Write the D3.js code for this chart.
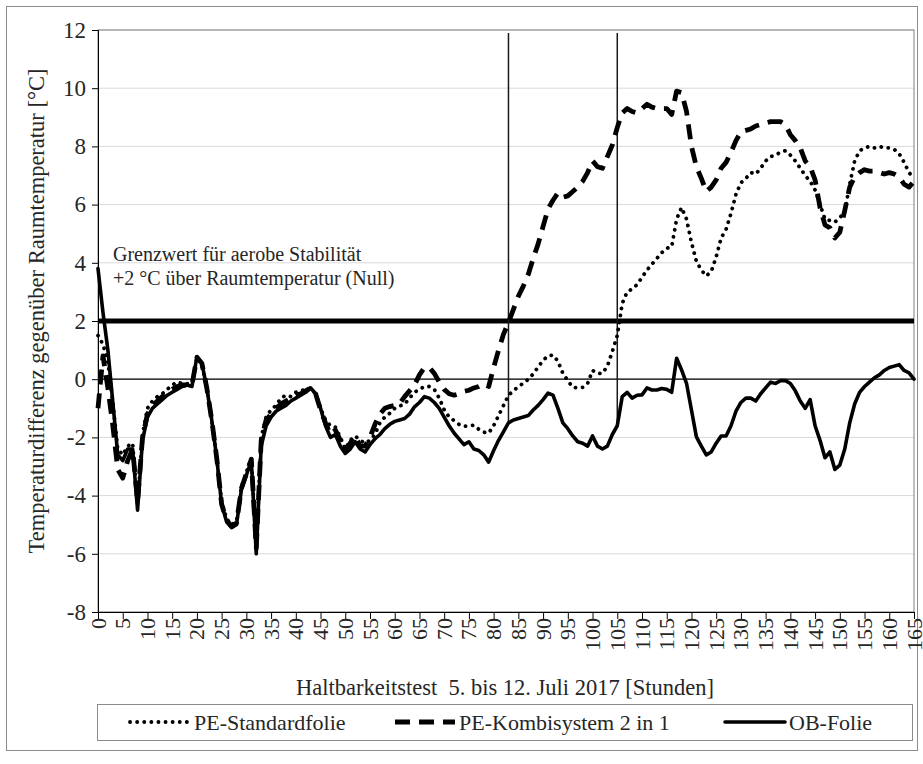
<!DOCTYPE html>
<html>
<head>
<meta charset="utf-8">
<script src="https://cdn.jsdelivr.net/npm/d3@7"></script>
<style>
  body { margin: 0; background: #fff; }
  text { font-family: "Liberation Serif", "Times New Roman", serif; }
</style>
</head>
<body>
<div id="chart-area"></div>
<script>
// hours of the test (one reading per hour)
var hours = d3.range(0, 166);

var xTicks = [0,5,10,15,20,25,30,35,40,45,50,55,60,65,70,75,80,85,90,95,100,105,110,115,120,125,130,135,140,145,150,155,160,165];
var yTicks = [-8,-6,-4,-2,0,2,4,6,8,10,12];

// PE-Standardfolie
var peStandard = [
  1.5,1.2,0.6,-0.8,-2.4,-2.6,-2.3,-2.2,-4.3,-1.9,
  -1.0,-0.75,-0.6,-0.5,-0.35,-0.2,-0.1,-0.15,-0.15,-0.15,
  0.75,0.5,-0.3,-1.4,-2.7,-4.2,-4.8,-5.0,-4.9,-3.7,
  -3.2,-2.7,-5.8,-2.0,-1.3,-1.05,-0.9,-0.65,-0.55,-0.6,
  -0.45,-0.4,-0.35,-0.3,-0.5,-1.0,-1.4,-1.6,-1.65,-2.0,
  -2.4,-2.1,-1.95,-2.1,-2.2,-2.1,-1.9,-1.5,-1.3,-1.17,
  -1.0,-0.92,-0.86,-0.65,-0.45,-0.35,-0.25,-0.25,-0.35,-0.65,
  -1.05,-1.3,-1.42,-1.55,-1.62,-1.6,-1.58,-1.72,-1.82,-1.85,
  -1.6,-1.25,-0.9,-0.55,-0.4,-0.25,-0.14,0.0,0.18,0.42,
  0.65,0.8,0.83,0.62,0.2,-0.05,-0.28,-0.3,-0.28,-0.15,
  0.3,0.2,0.2,0.45,0.95,1.5,2.6,3.0,3.1,3.25,
  3.5,3.75,3.95,4.15,4.35,4.5,4.55,5.5,5.9,5.5,
  4.7,4.05,3.75,3.55,3.7,4.2,4.85,5.15,5.7,6.35,
  6.75,6.9,7.1,7.05,7.25,7.5,7.65,7.7,7.8,7.85,
  7.7,7.5,7.25,7.0,6.8,6.5,6.0,5.5,5.45,5.4,
  5.55,5.75,6.7,7.5,7.85,7.95,8.0,7.95,8.0,7.95,
  7.95,7.9,7.75,7.45,7.1,6.9
];

// PE-Kombisystem 2 in 1
var peKombi = [
  -1.0,0.8,-0.3,-1.6,-3.1,-3.4,-2.8,-2.4,-4.2,-2.0,
  -1.2,-0.9,-0.75,-0.6,-0.45,-0.35,-0.25,-0.2,-0.2,-0.2,
  0.75,0.55,-0.3,-1.4,-2.7,-4.3,-4.85,-5.05,-4.95,-3.75,
  -3.25,-2.75,-5.8,-2.1,-1.4,-1.2,-1.0,-0.85,-0.75,-0.65,
  -0.55,-0.5,-0.4,-0.3,-0.5,-1.05,-1.5,-1.9,-1.75,-2.1,
  -2.45,-2.2,-1.95,-2.3,-2.3,-2.0,-1.55,-1.2,-1.0,-0.94,
  -0.9,-0.83,-0.6,-0.4,-0.2,0.15,0.4,0.4,0.2,-0.1,
  -0.35,-0.5,-0.55,-0.5,-0.42,-0.38,-0.3,-0.25,-0.15,-0.25,
  0.4,1.0,1.55,1.95,2.4,2.85,3.2,3.6,4.15,4.65,
  5.25,5.85,6.15,6.4,6.25,6.3,6.45,6.6,6.8,7.1,
  7.5,7.3,7.25,7.65,8.05,8.65,9.15,9.3,9.2,9.15,
  9.3,9.45,9.35,9.3,9.3,9.3,9.1,9.9,9.85,9.2,
  8.0,7.3,6.9,6.45,6.6,6.85,7.25,7.45,7.8,8.2,
  8.5,8.55,8.6,8.7,8.75,8.8,8.85,8.85,8.85,8.75,
  8.4,8.2,7.95,7.5,7.3,6.85,5.9,5.3,5.2,4.85,
  5.05,5.8,6.6,6.95,7.1,7.2,7.15,7.15,7.1,7.05,
  7.1,7.05,6.95,6.7,6.6,6.8
];

// OB-Folie
var obFolie = [
  3.8,2.3,1.0,-0.8,-2.6,-2.8,-2.4,-2.4,-4.5,-2.1,
  -1.3,-1.0,-0.85,-0.7,-0.55,-0.45,-0.35,-0.25,-0.2,-0.25,
  0.78,0.55,-0.3,-1.4,-2.7,-4.3,-4.9,-5.1,-5.0,-3.8,
  -3.3,-2.8,-6.0,-2.3,-1.6,-1.3,-1.1,-1.0,-0.9,-0.75,
  -0.65,-0.55,-0.45,-0.3,-0.5,-1.0,-1.6,-2.0,-1.9,-2.3,
  -2.55,-2.4,-2.15,-2.4,-2.5,-2.25,-2.05,-1.9,-1.7,-1.55,
  -1.45,-1.4,-1.35,-1.2,-0.95,-0.8,-0.6,-0.65,-0.8,-1.0,
  -1.3,-1.6,-1.85,-2.05,-2.25,-2.15,-2.4,-2.45,-2.6,-2.85,
  -2.45,-2.1,-1.8,-1.5,-1.4,-1.35,-1.3,-1.25,-1.06,-0.9,
  -0.7,-0.48,-0.55,-1.0,-1.5,-1.7,-1.95,-2.15,-2.2,-2.3,
  -1.95,-2.3,-2.4,-2.3,-1.9,-1.6,-0.6,-0.45,-0.65,-0.55,
  -0.54,-0.3,-0.37,-0.37,-0.32,-0.35,-0.45,0.72,0.32,-0.14,
  -1.06,-1.98,-2.3,-2.6,-2.5,-2.2,-1.95,-1.95,-1.6,-1.1,
  -0.8,-0.65,-0.65,-0.75,-0.5,-0.3,-0.1,-0.15,-0.05,-0.05,
  -0.15,-0.4,-0.75,-1.0,-0.7,-1.6,-2.1,-2.7,-2.5,-3.1,
  -2.95,-2.4,-1.5,-0.85,-0.45,-0.25,-0.1,0.05,0.15,0.3,
  0.4,0.45,0.5,0.3,0.22,0.0
];

// limit value and the two marked hours
var limitValue = 2;
var markHours = [83, 105];

var W = 923, H = 764;
var pLeft = 98, pRight = 914, pTop = 30, pBottom = 612;
var serif = "Liberation Serif, Times New Roman, serif";
var tickFont = "22px", titleFont = "22.5px", legendFont = "22px", noteFont = "20px";

var svg = d3.select("#chart-area")
    .append("svg")
    .attr("width", W)
    .attr("height", H)
    .attr("font-family", serif);

// outer frame
svg.append("rect")
    .attr("x", 6.5).attr("y", 6.5)
    .attr("width", 911).attr("height", 744)
    .attr("fill", "#fff")
    .attr("stroke", "#8c8c8c");

var x = d3.scaleLinear().domain([0, 165]).range([pLeft, pRight]);
var y = d3.scaleLinear().domain([-8, 12]).range([pBottom, pTop]);

// grid lines
svg.append("g").selectAll("line")
    .data(yTicks)
    .enter()
    .append("line")
    .attr("x1", pLeft).attr("x2", pRight)
    .attr("y1", d => y(d)).attr("y2", d => y(d))
    .attr("stroke", "#d9d9d9")
    .attr("stroke-width", 1);

// plot frame
svg.append("rect")
    .attr("x", pLeft).attr("y", pTop)
    .attr("width", pRight - pLeft).attr("height", pBottom - pTop)
    .attr("fill", "none")
    .attr("stroke", "#808080");

// zero line
svg.append("line")
    .attr("x1", pLeft).attr("x2", pRight)
    .attr("y1", y(0)).attr("y2", y(0))
    .attr("stroke", "#000")
    .attr("stroke-width", 1.2);

// axes
var yAxis = d3.axisLeft(y).tickValues(yTicks).tickSize(6).tickPadding(6)
    .tickFormat(d => String(d));
var gy = svg.append("g").attr("transform", "translate(" + pLeft + ",0)").call(yAxis)
    .attr("font-family", serif);
gy.selectAll("text").style("font-size", "23px").attr("fill", "#262626");

var xAxis = d3.axisBottom(x).tickValues(xTicks).tickSize(7).tickPadding(4)
    .tickFormat(d => String(d));
var gx = svg.append("g").attr("transform", "translate(0," + pBottom + ")").call(xAxis)
    .attr("font-family", serif);
gx.selectAll("text")
    .style("font-size", tickFont)
    .attr("fill", "#262626")
    .attr("text-anchor", "end")
    .attr("transform", "rotate(-90)")
    .attr("x", -6)
    .attr("y", 0)
    .attr("dy", "0.32em");
gx.select(".domain").attr("stroke", "#000");
gy.select(".domain").attr("stroke", "#000");

// limit line at +2 °C
svg.append("line")
    .attr("x1", pLeft).attr("x2", pRight)
    .attr("y1", y(limitValue)).attr("y2", y(limitValue))
    .attr("stroke", "#000")
    .attr("stroke-width", 5);

svg.append("text")
    .attr("x", 113).attr("y", 261)
    .style("font-size", noteFont).attr("fill", "#262626")
    .text("Grenzwert für aerobe Stabilität");
svg.append("text")
    .attr("x", 113).attr("y", 285)
    .style("font-size", noteFont).attr("fill", "#262626")
    .text("+2 °C über Raumtemperatur (Null)");

// vertical markers, from the top down to the OB-Folie curve
svg.append("g").selectAll("line")
    .data(markHours)
    .enter()
    .append("line")
    .attr("x1", d => x(d)).attr("x2", d => x(d))
    .attr("y1", y(11.9))
    .attr("y2", d => y(obFolie[hours.indexOf(d)]))
    .attr("stroke", "#1a1a1a")
    .attr("stroke-width", 1.5);

var series = [
  { name: "PE-Standardfolie", values: peStandard, width: 3.8, dash: "0.1,7", cap: "round" },
  { name: "PE-Kombisystem 2 in 1", values: peKombi, width: 4.8, dash: "15,9", cap: "butt" },
  { name: "OB-Folie", values: obFolie, width: 3.6, dash: null, cap: "round" }
];

var line = d3.line()
    .x((d, i) => x(hours[i]))
    .y(d => y(d));

svg.append("g").selectAll("path")
    .data(series)
    .enter()
    .append("path")
    .attr("d", d => line(d.values))
    .attr("fill", "none")
    .attr("stroke", "#000")
    .attr("stroke-width", d => d.width)
    .attr("stroke-dasharray", d => d.dash)
    .attr("stroke-linecap", d => d.cap)
    .attr("stroke-linejoin", "round");

// axis titles
svg.append("text")
    .attr("transform", "translate(36," + ((pTop + pBottom) / 2 - 10) + ") rotate(-90)")
    .attr("text-anchor", "middle")
    .attr("dy", "0.35em")
    .style("font-size", titleFont).attr("fill", "#262626")
    .text("Temperaturdifferenz gegenüber Raumtemperatur [°C]");

svg.append("text")
    .attr("x", 505).attr("y", 695)
    .attr("text-anchor", "middle")
    .style("font-size", titleFont).attr("fill", "#262626")
    .style("white-space", "pre")
    .text("Haltbarkeitstest  5. bis 12. Juli 2017 [Stunden]");

// legend
var legend = svg.append("g");
legend.append("rect")
    .attr("x", 97.5).attr("y", 704.5)
    .attr("width", 815).attr("height", 36)
    .attr("fill", "#fff")
    .attr("stroke", "#8c8c8c");

var legendX = [130, 395, 725];
var items = legend.selectAll(".item")
    .data(series)
    .enter()
    .append("g")
    .attr("transform", (d, i) => "translate(" + legendX[i] + ",722)");
items.append("line")
    .attr("x1", 0).attr("x2", 60)
    .attr("stroke", "#000")
    .attr("stroke-width", d => d.width)
    .attr("stroke-dasharray", d => d.dash)
    .attr("stroke-linecap", d => d.cap);
items.append("text")
    .attr("x", 64)
    .attr("dy", "0.35em")
    .style("font-size", legendFont).attr("fill", "#262626")
    .text(d => d.name);
</script>
</body>
</html>
